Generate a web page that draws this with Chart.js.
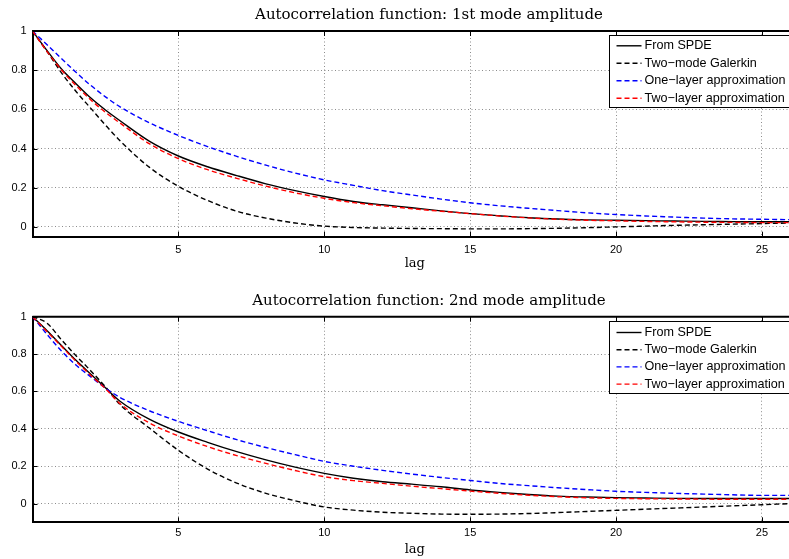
<!DOCTYPE html>
<html><head><meta charset="utf-8">
<script src="https://cdn.jsdelivr.net/npm/chart.js@4"></script>
<style>
html,body{margin:0;padding:0;background:#fff;overflow:hidden;width:789px;height:559px;}
.box{position:absolute;left:0;width:810px;}
canvas{display:block;}
</style></head><body>
<div class="box" style="top:0;height:280px"><canvas id="c1" width="810" height="280"></canvas></div>
<div class="box" style="top:280px;height:279px"><canvas id="c2" width="810" height="279"></canvas></div>
<script>
const lags = [0,0.5,1,1.5,2,2.5,3,4,5,6,7,8,9,10,11,12,13,14,15,16,17,18,19,20,21,22,23,24,25,26];
const xTicks = [5,10,15,20,25];
const yTicks = [0,0.2,0.4,0.6,0.8,1];
const seriesNames = ['From SPDE','Two\u2212mode Galerkin','One\u2212layer approximation','Two\u2212layer approximation'];
const titles = ['Autocorrelation function: 1st mode amplitude','Autocorrelation function: 2nd mode amplitude'];
const xLabel = 'lag';

// 1st mode
const m1Spde     = [1,0.9,0.805,0.73,0.658,0.597,0.542,0.438,0.362,0.307,0.262,0.22,0.185,0.155,0.13,0.113,0.098,0.082,0.068,0.057,0.047,0.04,0.036,0.034,0.032,0.03,0.028,0.027,0.026,0.027];
const m1Galerkin = [1,0.895,0.785,0.69,0.605,0.52,0.44,0.305,0.207,0.135,0.08,0.045,0.02,0.004,-0.003,-0.006,-0.008,-0.009,-0.01,-0.01,-0.009,-0.007,-0.004,0.0,0.004,0.008,0.011,0.014,0.017,0.02];
const m1OneLayer = [1,0.93,0.858,0.788,0.722,0.664,0.613,0.532,0.467,0.41,0.36,0.315,0.275,0.24,0.212,0.185,0.163,0.142,0.123,0.108,0.095,0.083,0.072,0.063,0.056,0.05,0.045,0.041,0.039,0.037];
const m1TwoLayer = [1,0.895,0.8,0.72,0.648,0.585,0.53,0.425,0.348,0.292,0.248,0.208,0.174,0.146,0.124,0.108,0.093,0.08,0.068,0.056,0.046,0.039,0.034,0.031,0.028,0.026,0.024,0.023,0.022,0.022];

// 2nd mode
const m2Spde     = [1,0.925,0.845,0.765,0.692,0.62,0.548,0.452,0.383,0.328,0.278,0.234,0.195,0.162,0.136,0.117,0.104,0.09,0.073,0.06,0.049,0.04,0.035,0.032,0.03,0.028,0.027,0.027,0.027,0.027];
const m2Galerkin = [1,0.965,0.875,0.79,0.71,0.625,0.53,0.405,0.285,0.185,0.11,0.055,0.015,-0.018,-0.035,-0.046,-0.052,-0.056,-0.057,-0.056,-0.053,-0.048,-0.042,-0.036,-0.03,-0.024,-0.018,-0.012,-0.006,0.0];
const m2OneLayer = [1,0.905,0.815,0.74,0.678,0.618,0.568,0.497,0.44,0.39,0.342,0.3,0.262,0.226,0.2,0.178,0.158,0.14,0.124,0.108,0.096,0.085,0.075,0.066,0.06,0.055,0.051,0.047,0.044,0.044];
const m2TwoLayer = [1,0.92,0.84,0.76,0.686,0.615,0.535,0.432,0.362,0.305,0.257,0.215,0.177,0.144,0.123,0.108,0.093,0.08,0.067,0.055,0.045,0.037,0.031,0.028,0.026,0.025,0.024,0.023,0.023,0.023];

const styles = [
  {color:'#000000', dash:[], width:1.4, order:3},
  {color:'#000000', dash:[5,3], width:1.4, order:2},
  {color:'#0000ff', dash:[5,3], width:1.4, order:1},
  {color:'#ff0000', dash:[5,3], width:1.4, order:0}
];

const boxPlugin = {
  id:'matlabBox',
  afterDraw(chart){
    const {ctx, chartArea:a, scales:{x,y}} = chart;
    const cfg = chart.options.plugins.matlabBox;
    ctx.save();
    ctx.strokeStyle='#000'; ctx.lineWidth=2; ctx.setLineDash([]);
    ctx.beginPath(); ctx.moveTo(a.left,a.top); ctx.lineTo(a.right,a.top); ctx.lineTo(a.right,a.bottom); ctx.stroke();
    ctx.lineWidth=1;
    ctx.beginPath();
    for(const v of xTicks){ const px=Math.round(x.getPixelForValue(v))+0.5;
      ctx.moveTo(px,a.bottom); ctx.lineTo(px,a.bottom-5); ctx.moveTo(px,a.top); ctx.lineTo(px,a.top+5); }
    for(const v of yTicks){ const py=Math.round(y.getPixelForValue(v))+0.5;
      ctx.moveTo(a.left,py); ctx.lineTo(a.left+5,py); ctx.moveTo(a.right,py); ctx.lineTo(a.right-5,py); }
    ctx.stroke();
    // title
    ctx.font='15px "DejaVu Serif", serif';
    ctx.fillStyle='#000'; ctx.textAlign='center'; ctx.textBaseline='middle';
    ctx.fillText(cfg.title, 429, cfg.titleY);
    // legend
    ctx.font='12.6px "Liberation Sans", Arial, sans-serif';
    const ds = chart.data.datasets;
    let maxW=0; ds.forEach(d=>{maxW=Math.max(maxW,ctx.measureText(d.label).width);});
    const left = Math.round(a.left+576.5)+0.5, top = Math.round(a.top+cfg.legTop)+0.5;
    const w = 7+25+3+maxW+6, h = 72;
    ctx.fillStyle='#fff'; ctx.fillRect(left,top,w,h);
    ctx.strokeStyle='#000'; ctx.lineWidth=1; ctx.strokeRect(left,top,w,h);
    ds.forEach((d,i)=>{
      const yy = top + cfg.legRow0 + i*cfg.legStep;
      ctx.strokeStyle=d.borderColor; ctx.lineWidth=d.borderWidth; ctx.setLineDash(d.borderDash);
      ctx.beginPath(); ctx.moveTo(left+7,yy); ctx.lineTo(left+32,yy); ctx.stroke();
      ctx.setLineDash([]);
      ctx.fillStyle='#000'; ctx.textBaseline='middle'; ctx.textAlign='left';
      ctx.fillText(d.label,left+35,yy);
    });
    ctx.restore();
  }
};

function makeChart(id, title, series, cfg){
  return new Chart(document.getElementById(id), {
    type:'line',
    data:{ datasets: series.map((vals,i)=>({
      label: seriesNames[i],
      data: lags.map((lx,j)=>({x:lx, y:vals[j]})),
      borderColor: styles[i].color, borderDash: styles[i].dash, borderWidth: styles[i].width,
      order: styles[i].order, pointRadius:0, fill:false, cubicInterpolationMode:'monotone'
    }))},
    options:{
      responsive:false, animation:false, devicePixelRatio:1,
      layout:{padding:{left:0,right:13,top:cfg.areaTop,bottom:0}},
      plugins:{
        legend:{display:false}, tooltip:{enabled:false}, title:{display:false},
        matlabBox:{title:title, titleY:cfg.titleY, legTop:cfg.legTop, legRow0:cfg.legRow0, legStep:cfg.legStep}
      },
      scales:{
        x:{ type:'linear', min:0, max:26.2,
          afterBuildTicks:s=>{ s.ticks = xTicks.map(v=>({value:v})); },
          afterFit:s=>{ s.height = cfg.xHeight; },
          ticks:{ font:{family:'"Liberation Sans", Arial, sans-serif', size:11}, color:'#000', padding:cfg.xTickPad, maxRotation:0, autoSkip:false,
            callback:v=>String(v) },
          grid:{ color:'rgba(0,0,0,0.45)', lineWidth:1, drawTicks:false },
          border:{ display:true, color:'#000', width:2, dash:[1,2.5] },
          title:{ display:true, text:xLabel, color:'#000', font:{family:'"DejaVu Serif", serif', size:13}, padding:{top:0, bottom:cfg.lagPad} }
        },
        y:{ type:'linear', min:cfg.yMin, max:1,
          afterBuildTicks:s=>{ s.ticks = yTicks.map(v=>({value:v})); },
          afterFit:s=>{ s.width = 32.5; },
          ticks:{ font:{family:'"Liberation Sans", Arial, sans-serif', size:11}, color:'#000', padding:5.8,
            callback:v=>String(Math.round(v*10)/10) },
          grid:{ color:'rgba(0,0,0,0.45)', lineWidth:1, drawTicks:false },
          border:{ display:true, color:'#000', width:2, dash:[1,2.5] }
        }
      }
    },
    plugins:[boxPlugin]
  });
}

makeChart('c1', titles[0], [m1Spde,m1Galerkin,m1OneLayer,m1TwoLayer],
  {areaTop:31, titleY:15, xHeight:43.3, xTickPad:6.7, lagPad:8.7, yMin:-0.05, legTop:3.7, legRow0:10.3, legStep:17.5});
makeChart('c2', titles[1], [m2Spde,m2Galerkin,m2OneLayer,m2TwoLayer],
  {areaTop:36.7, titleY:21.5, xHeight:36.7, xTickPad:4.1, lagPad:1.2, yMin:-0.1, legTop:4.3, legRow0:11, legStep:17.2});
</script>
</body></html>
